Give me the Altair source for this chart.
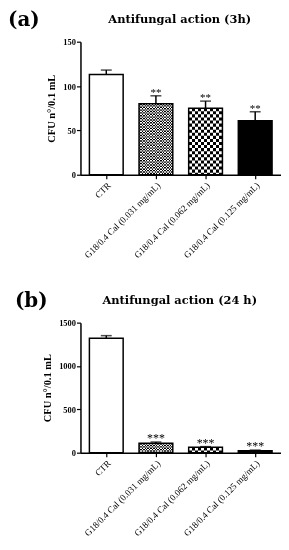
import altair as alt
import pandas as pd

categories = ["CTR", "G18/0.4 Cal (0.031 mg/mL)", "G18/0.4 Cal (0.062 mg/mL)", "G18/0.4 Cal (0.125 mg/mL)"]
styles = ["open", "fine", "coarse", "solid"]
cfu_3h = [113, 80, 75, 61]
err_3h = [5, 9, 8, 10]
stars_3h = ["", "**", "**", "**"]
cfu_24h = [1320, 108, 62, 23]
err_24h = [30, 15, 8, 7]
stars_24h = ["", "***", "***", "***"]

FONT = "Liberation Serif"
BAR_W = 34
PLOT_W = 202


def stripes(n):
    stops = []
    for i in range(n):
        c = "black" if i % 2 == 0 else "white"
        stops.append(alt.GradientStop(offset=i / n, color=c))
        stops.append(alt.GradientStop(offset=(i + 1) / n, color=c))
    return alt.Gradient(gradient="linear", x1=0, x2=1, y1=0, y2=0, stops=stops)


def panel(vals, errs, stars, ymax, yticks, h, title, tag, tag_x, tag_y, title_y, star_size):
    df = pd.DataFrame({
        "cat": categories,
        "style": styles,
        "v": vals,
        "top": [a + b for a, b in zip(vals, errs)],
        "stars": stars,
    })
    xenc = alt.X("cat:N", sort=categories, title=None,
                 scale=alt.Scale(paddingInner=0.32, paddingOuter=0.18),
                 axis=alt.Axis(labelAngle=-45, labelFont=FONT, labelFontSize=9.2,
                               labelColor="black", tickColor="black", domainColor="black",
                               tickSize=4, tickWidth=1.2, domainWidth=1.5, labelPadding=2,
                               labelLimit=200))
    yscale = alt.Scale(domain=[0, ymax], nice=False)
    yaxis = alt.Axis(values=yticks, format="d", grid=False, title="CFU n°/0.1 mL",
                     titleFont=FONT, titleFontSize=10.5, titleFontWeight="bold",
                     titleColor="black", titlePadding=6,
                     labelFont=FONT, labelFontSize=8.5, labelFontWeight="bold",
                     labelColor="black", tickColor="black", domainColor="black",
                     tickSize=4, tickWidth=1.2, domainWidth=1.5, labelPadding=1)

    def Y(field):
        return alt.Y(field, scale=yscale, axis=yaxis, title="CFU n°/0.1 mL")

    X = alt.X("cat:N", sort=categories)
    base = alt.Chart(df)
    bars = base.mark_bar(stroke=None).encode(
        x=xenc,
        y=Y("v:Q"),
        fill=alt.Fill("style:N", scale=alt.Scale(domain=styles, range=["white", "white", "white", "black"]),
                      legend=None),
    )
    layers = [bars]
    for st, n in [("fine", 24), ("coarse", 11)]:
        d = BAR_W / n
        pat = base.transform_filter(alt.datum.style == st).mark_bar(color=stripes(n), stroke=None).encode(
            x=X, y=Y("v:Q"))
        xr = base.transform_filter(alt.datum.style == st).mark_rule(
            color="white", strokeWidth=BAR_W, strokeDash=[d, d], blend="difference").encode(
            x=X, y=Y("v:Q"), y2=alt.datum(0))
        layers += [pat, xr]
    err = base.mark_rule(color="black", strokeWidth=1.5).encode(x=X, y=Y("v:Q"), y2="top:Q")
    cap = base.mark_tick(color="black", thickness=1.5, size=11).encode(x=X, y=Y("top:Q"))
    outline = base.mark_bar(fillOpacity=0, stroke="black", strokeWidth=1.5).encode(x=X, y=Y("v:Q"))
    txt = base.mark_text(font=FONT, fontSize=star_size, baseline="alphabetic", dy=0, color="black").encode(
        x=X, y=Y("top:Q"), text="stars:N")
    lab = alt.Chart(alt.Data(values=[{"t": tag}])).mark_text(
        font="DejaVu Serif", fontSize=20, fontWeight="bold", align="left", baseline="middle",
        color="black").encode(x=alt.value(tag_x), y=alt.value(tag_y), text="t:N")
    ttl = alt.Chart(alt.Data(values=[{"t": title}])).mark_text(
        font="DejaVu Serif", fontSize=11.5, fontWeight="bold", align="center", baseline="middle",
        color="black").encode(x=alt.value(PLOT_W / 2 - 1), y=alt.value(title_y), text="t:N")
    layers += [err, cap, outline, txt, lab, ttl]
    return alt.layer(*layers).properties(width=PLOT_W, height=h)


pa = panel(cfu_3h, err_3h, stars_3h, 150, [0, 50, 100, 150], 134,
           "Antifungal action (3h)", "(a)", -73, -22, -22, 11)
pb = panel(cfu_24h, err_24h, stars_24h, 1500, [0, 500, 1000, 1500], 131,
           "Antifungal action (24 h)", "(b)", -66, -22, -22, 12)

chart = alt.vconcat(pa, pb, spacing=31).properties(padding=0).configure_view(stroke=None)
chart.save("out.html", embed_options={"renderer": "svg", "actions": False})
